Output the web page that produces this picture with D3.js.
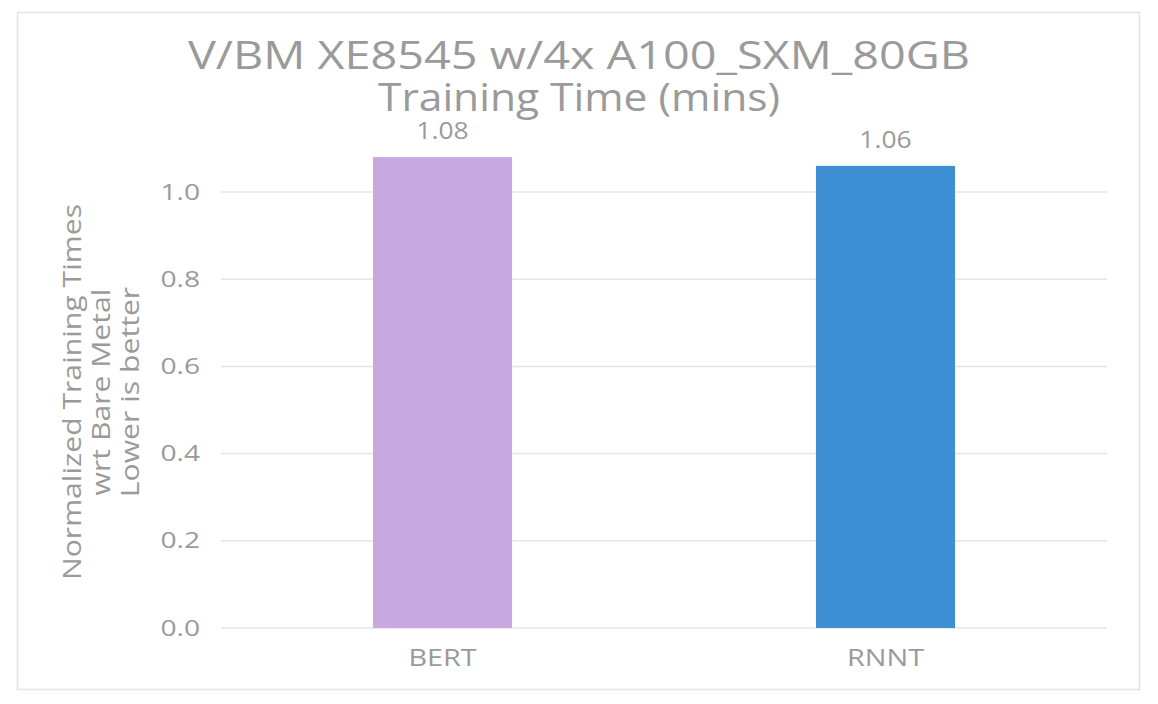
<!DOCTYPE html>
<html>
<head>
<meta charset="utf-8">
<script src="https://cdn.jsdelivr.net/npm/d3@7"></script>
<style>
  html, body { margin: 0; padding: 0; background: #fff; }
  svg { display: block; }
  text { font-family: "Open Sans", "Noto Sans", sans-serif; fill: #9a9a9a; }
</style>
</head>
<body>
<svg id="chart" width="1158" height="704"></svg>
<script>
const categories = ["BERT", "RNNT"];
const values = [1.08, 1.06];
const valueLabels = ["1.08", "1.06"];
const barColors = ["#C7A9E0", "#3E8FD4"];
const yTicks = [0.0, 0.2, 0.4, 0.6, 0.8, 1.0];
const titleLines = ["V/BM XE8545 w/4x A100_SXM_80GB", "Training Time (mins)"];
const yTitleLines = ["Normalized Training Times", "wrt Bare Metal", "Lower is better"];

const svg = d3.select("#chart");

// widen glyphs to imitate the wide geometric face of the original
function widen(sel, factor) {
  sel.each(function (d, i) {
    const f = typeof factor === "function" ? factor(d, i) : factor;
    const n = this.getComputedTextLength();
    d3.select(this).attr("textLength", n * f).attr("lengthAdjust", "spacingAndGlyphs");
  });
}

// chart frame
svg.append("rect").attr("x", 17.5).attr("y", 12.5).attr("width", 1122).attr("height", 677)
  .attr("fill", "#fff").attr("stroke", "#e3e3e3").attr("stroke-width", 1.5);

const plot = { left: 221, right: 1107, top: 192, bottom: 628 };

const x = d3.scaleBand().domain(categories).range([plot.left, plot.right]).padding(0);
const y = d3.scaleLinear().domain([0, 1.0]).range([plot.bottom, plot.top]);

// gridlines
svg.append("g").selectAll("line").data(yTicks).join("line")
  .attr("x1", plot.left).attr("x2", plot.right)
  .attr("y1", d => y(d)).attr("y2", d => y(d))
  .attr("stroke", "#e5e5e5").attr("stroke-width", 1.5);

// y axis
const yAxis = d3.axisLeft(y).tickValues(yTicks).tickFormat(d3.format(".1f")).tickSize(0).tickPadding(21);
const yg = svg.append("g").attr("transform", `translate(${plot.left},0)`).call(yAxis);
yg.select(".domain").remove();
yg.selectAll("text").attr("font-size", 22).attr("fill", "#9a9a9a")
  .style("font-family", '"Open Sans", sans-serif').call(widen, 1.28);

// x axis
const xAxis = d3.axisBottom(x).tickSize(0).tickPadding(21);
const xg = svg.append("g").attr("transform", `translate(0,${plot.bottom})`).call(xAxis);
xg.select(".domain").remove();
xg.selectAll("text").attr("font-size", 24).attr("fill", "#9a9a9a")
  .style("font-family", '"Open Sans", sans-serif').call(widen, 1.2);

// bars
const barFrac = 0.314;
const bw = x.bandwidth() * barFrac;
svg.append("g").selectAll("rect").data(categories).join("rect")
  .attr("x", d => x(d) + (x.bandwidth() - bw) / 2)
  .attr("width", bw)
  .attr("y", (d, i) => y(values[i]))
  .attr("height", (d, i) => y(0) - y(values[i]))
  .attr("fill", (d, i) => barColors[i]);

// value labels
svg.append("g").selectAll("text").data(categories).join("text")
  .attr("x", d => x(d) + x.bandwidth() / 2)
  .attr("y", (d, i) => y(values[i]) - 18)
  .attr("text-anchor", "middle")
  .attr("font-size", 24)
  .text((d, i) => valueLabels[i])
  .call(widen, 1.1);

// title
svg.append("g").selectAll("text").data(titleLines).join("text")
  .attr("x", 579)
  .attr("y", (d, i) => 69 + i * 42)
  .attr("text-anchor", "middle")
  .attr("font-size", 39)
  .text(d => d)
  .call(widen, (d, i) => (i === 0 ? 1.2 : 1.09));

// y title
const yt = svg.append("g").attr("transform", "translate(72,392) rotate(-90)");
yt.selectAll("text").data(yTitleLines).join("text")
  .attr("x", 0)
  .attr("y", (d, i) => i * 29 + 9)
  .attr("text-anchor", "middle")
  .attr("font-size", 26)
  .text(d => d)
  .call(widen, 1.16);
</script>
</body>
</html>
